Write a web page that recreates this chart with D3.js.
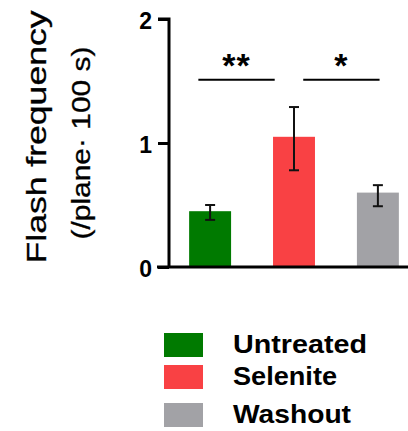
<!DOCTYPE html>
<html><head><meta charset="utf-8">
<script src="https://cdn.jsdelivr.net/npm/d3@7"></script>
<style>body{margin:0;background:#fff}svg{display:block}</style>
</head><body>
<script>
const categories = ["Untreated", "Selenite", "Washout"];
const means = [0.45, 1.05, 0.60];
const errHigh = [0.05, 0.24, 0.06];
const errLow = [0.07, 0.27, 0.11];
const colors = ["#007a00", "#f94144", "#a2a2a6"];
const yTicks = [0, 1, 2];
const sigLabels = ["**", "*"];
const sigPairs = [[0, 1], [1, 2]];
const sigLevel = 1.51;

const W = 408, H = 431;
const FONT = "Liberation Sans, Arial, sans-serif";
const svg = d3.select("body").append("svg").attr("width", W).attr("height", H);

const y = d3.scaleLinear().domain([0, 2]).range([267, 19]);
const x = d3.scaleBand().domain(categories).range([169, 419]).paddingInner(0.5).paddingOuter(0.24);
const xi = d3.scaleLinear().domain([0, 2]).range([x(categories[0]) + x.bandwidth()/2, x(categories[2]) + x.bandwidth()/2]);

// bars
svg.selectAll("rect.bar").data(categories).join("rect")
  .attr("x", d => x(d)).attr("width", x.bandwidth())
  .attr("y", (d, i) => y(means[i])).attr("height", (d, i) => y(0) - y(means[i]))
  .attr("fill", (d, i) => colors[i]);

// error bars
const eb = svg.append("g").attr("stroke", "#111").attr("stroke-width", 2).attr("fill", "none");
categories.forEach((c, i) => {
  const cx = x(c) + x.bandwidth()/2;
  const hi = y(means[i] + errHigh[i]), lo = y(means[i] - errLow[i]);
  eb.append("line").attr("x1", cx).attr("x2", cx).attr("y1", hi).attr("y2", lo);
  eb.append("line").attr("x1", cx-5).attr("x2", cx+5).attr("y1", hi).attr("y2", hi);
  eb.append("line").attr("x1", cx-5).attr("x2", cx+5).attr("y1", lo).attr("y2", lo);
});

// x axis line
svg.append("line").attr("x1", 157).attr("x2", W).attr("y1", y(0)).attr("y2", y(0))
  .attr("stroke", "#000").attr("stroke-width", 3);

// y axis
const yAxis = d3.axisLeft(y).tickValues(yTicks).tickFormat(d3.format("d")).tickSize(11).tickPadding(6);
const ga = svg.append("g").attr("transform", "translate(169,0)").call(yAxis);
ga.select(".domain").attr("stroke", "#000").attr("stroke-width", 3).attr("d", `M-11,${y(2)}H0V${y(0)}`);
ga.selectAll(".tick line").attr("stroke", "#000").attr("stroke-width", 3);
ga.selectAll(".tick text").attr("fill", "#000").attr("font-family", FONT)
  .attr("font-weight", "bold").attr("font-size", 23).attr("dy", "0.42em");

// significance
const offs = [[-0.14, -0.23], [0.11, 0.02]];
sigPairs.forEach((p, k) => {
  const x1 = xi(p[0] + offs[k][0]), x2 = xi(p[1] + offs[k][1]);
  svg.append("line").attr("x1", x1).attr("x2", x2).attr("y1", y(sigLevel)).attr("y2", y(sigLevel))
    .attr("stroke", "#000").attr("stroke-width", 2);
  svg.append("text").attr("x", (x1 + x2)/2).attr("y", y(sigLevel) - 3).attr("text-anchor", "middle")
    .attr("font-family", FONT).attr("font-weight", "bold").attr("font-size", 34)
    .attr("letter-spacing", 1).text(sigLabels[k]);
});

// y label
const lab = svg.append("g").attr("font-family", FONT).attr("fill", "#000").attr("stroke", "#000").attr("stroke-width", 0.3);
lab.append("text").attr("transform", "translate(46,137) rotate(-90)").attr("text-anchor", "middle")
  .attr("font-size", 27).attr("textLength", 253).attr("lengthAdjust", "spacingAndGlyphs").text("Flash frequency");
lab.append("text").attr("transform", "translate(90,143) rotate(-90)").attr("text-anchor", "middle")
  .attr("font-size", 25).attr("textLength", 193).attr("lengthAdjust", "spacingAndGlyphs").text("(/plane· 100 s)");

// legend
const legY = [333, 365, 403];
const legLen = [134, 104, 118];
const lg = svg.append("g");
categories.forEach((c, i) => {
  lg.append("rect").attr("x", 164).attr("y", legY[i]).attr("width", 39).attr("height", 24).attr("fill", colors[i]);
  lg.append("text").attr("x", 233).attr("y", legY[i] + 20).attr("font-family", FONT)
    .attr("font-weight", "bold").attr("font-size", 25)
    .attr("textLength", legLen[i]).attr("lengthAdjust", "spacingAndGlyphs").text(c);
});
</script>
</body></html>
